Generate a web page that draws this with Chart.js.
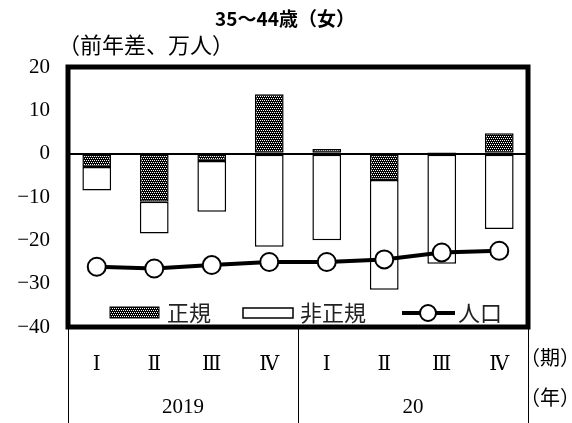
<!DOCTYPE html>
<html>
<head>
<meta charset="utf-8">
<script src="https://cdn.jsdelivr.net/npm/chart.js@4/dist/chart.umd.min.js"></script>
<style>
  html, body { margin: 0; padding: 0; background: #fff; }
  canvas { display: block; }
</style>
</head>
<body>
<canvas id="chart" width="572" height="423"></canvas>
<script>
  const quarters = ["Ⅰ", "Ⅱ", "Ⅲ", "Ⅳ", "Ⅰ", "Ⅱ", "Ⅲ", "Ⅳ"];
  const years = ["2019", "2019", "2019", "2019", "20", "20", "20", "20"];
  const regular = [-3.1, -11.1, -1.7, 13.7, 1.1, -6.1, 0.3, 4.7];
  const nonRegular = [-5.4, -7.3, -11.7, -21.5, -20.0, -25.3, -25.4, -17.4];
  const population = [-26.1, -26.5, -25.7, -25.0, -25.0, -24.4, -22.8, -22.4];
  const yTicks = [20, 10, 0, -10, -20, -30, -40];

  const SERIF = "'Liberation Serif', 'DejaVu Serif', serif";
  const GOTHIC = "'Noto Sans CJK JP', 'Noto Sans', sans-serif";

  // dark fill with offset white dots, like the printed screen tone
  function makeDots() {
    const tile = document.createElement("canvas");
    tile.width = 4;
    tile.height = 4;
    const t = tile.getContext("2d");
    t.fillStyle = "#000";
    t.fillRect(0, 0, 4, 4);
    t.fillStyle = "#fff";
    [[0, 0], [2, 0], [1, 2], [3, 2]].forEach(([x, y]) => t.fillRect(x, y, 1, 1));
    return document.getElementById("chart").getContext("2d").createPattern(tile, "repeat");
  }
  const dots = makeDots();

  const decorations = {
    id: "decorations",
    afterDraw(chart) {
      const { ctx, chartArea: a } = chart;
      ctx.save();

      // title + unit
      ctx.fillStyle = "#000";
      ctx.textBaseline = "middle";
      ctx.textAlign = "center";
      ctx.font = "bold 19px " + GOTHIC;
      ctx.fillText("35～44歳（女）", 285, 19);
      ctx.textAlign = "left";
      ctx.font = "22px " + GOTHIC;
      ctx.fillText("（前年差、万人）", 58, 45);

      // frame
      ctx.strokeStyle = "#000";
      ctx.lineWidth = 5;
      ctx.strokeRect(a.left, a.top, a.right - a.left, a.bottom - a.top);

      // year row and separators
      ctx.lineWidth = 1;
      const step = (a.right - a.left) / quarters.length;
      const bounds = [a.left];
      let start = 0;
      ctx.font = "21px " + SERIF;
      ctx.textAlign = "center";
      for (let i = 1; i <= years.length; i++) {
        if (i === years.length || years[i] !== years[start]) {
          const l = a.left + start * step;
          const r = a.left + i * step;
          ctx.fillText(years[start], (l + r) / 2, 407);
          bounds.push(r);
          start = i;
        }
      }
      bounds.forEach((bx) => {
        const px = Math.round(bx) + 0.5;
        ctx.beginPath();
        ctx.moveTo(px, a.bottom);
        ctx.lineTo(px, chart.height);
        ctx.stroke();
      });
      ctx.textAlign = "left";
      ctx.font = "20px " + GOTHIC;
      ctx.fillText("（期）", 520, 357);
      ctx.fillText("（年）", 520, 397);

      // legend
      const ly = a.bottom - 14;
      ctx.font = "22px " + GOTHIC;
      ctx.fillStyle = dots;
      ctx.fillRect(a.left + 42, ly - 6, 49, 11);
      ctx.strokeRect(a.left + 42, ly - 6, 49, 11);
      ctx.fillStyle = "#222";
      ctx.fillText("正規", a.left + 99, ly);
      ctx.fillStyle = "#fff";
      ctx.lineWidth = 1.5;
      ctx.fillRect(a.left + 175, ly - 5, 50, 10);
      ctx.strokeRect(a.left + 175, ly - 5, 50, 10);
      ctx.fillStyle = "#222";
      ctx.fillText("非正規", a.left + 232, ly);
      ctx.lineWidth = 4;
      ctx.beginPath();
      ctx.moveTo(a.left + 334, ly);
      ctx.lineTo(a.left + 387, ly);
      ctx.stroke();
      ctx.beginPath();
      ctx.arc(a.left + 360, ly, 8, 0, Math.PI * 2);
      ctx.fillStyle = "#fff";
      ctx.fill();
      ctx.lineWidth = 2;
      ctx.stroke();
      ctx.fillStyle = "#222";
      ctx.fillText("人口", a.left + 390, ly);

      ctx.restore();
    },
  };

  new Chart(document.getElementById("chart"), {
    type: "bar",
    data: {
      labels: quarters,
      datasets: [
        {
          type: "line",
          label: "人口",
          data: population,
          stack: "line",
          order: 0,
          borderColor: "#000",
          borderWidth: 4,
          pointRadius: 9,
          pointBorderWidth: 2,
          pointBackgroundColor: "#fff",
          pointBorderColor: "#000",
          tension: 0,
        },
        {
          label: "正規",
          data: regular,
          stack: "bars",
          order: 1,
          backgroundColor: dots,
          borderColor: "#000",
          borderWidth: 1.5,
          borderSkipped: false,
        },
        {
          label: "非正規",
          data: nonRegular,
          stack: "bars",
          order: 2,
          backgroundColor: "#fff",
          borderColor: "#000",
          borderWidth: 1.5,
          borderSkipped: false,
        },
      ],
    },
    options: {
      responsive: false,
      animation: false,
      layout: { padding: { left: 0, right: 44, top: 67, bottom: 0 } },
      categoryPercentage: 1,
      barPercentage: 0.5,
      plugins: {
        legend: { display: false },
        tooltip: { enabled: false },
      },
      scales: {
        x: {
          stacked: true,
          border: { display: false },
          grid: { display: false },
          ticks: {
            color: "#000",
            padding: 18,
            font: { family: "'DejaVu Serif', serif", size: 20 },
          },
          afterFit(scale) { scale.height = 96; },
        },
        y: {
          stacked: true,
          min: -40,
          max: 20,
          afterBuildTicks(scale) { scale.ticks = yTicks.map((v) => ({ value: v })); },
          border: { display: false },
          grid: {
            drawTicks: false,
            color: (c) => (c.tick && c.tick.value === 0 ? "#000" : "rgba(0,0,0,0)"),
            lineWidth: 2,
          },
          ticks: {
            color: "#000",
            padding: 18,
            font: { family: SERIF, size: 21 },
            callback: (v) => String(v).replace("-", "−"),
          },
          afterFit(scale) { scale.width = 68; },
        },
      },
    },
    plugins: [decorations],
  });
</script>
</body>
</html>
